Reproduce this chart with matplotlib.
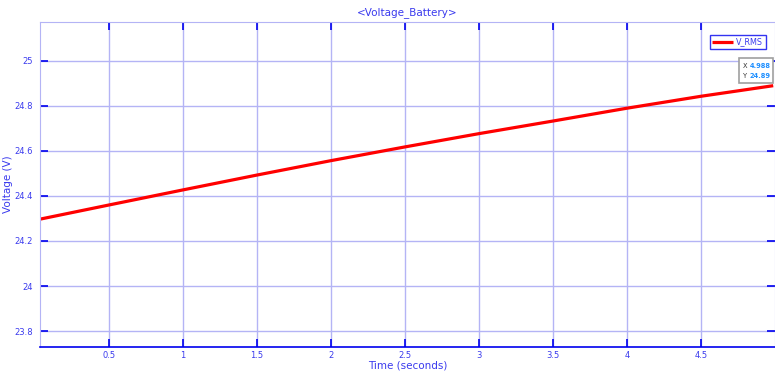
import matplotlib
matplotlib.use("Agg")
import matplotlib.pyplot as plt
from matplotlib.patches import Rectangle

# Battery RMS voltage trace
time_s = [0.034, 0.5, 1.0, 1.5, 2.0, 2.5, 3.0, 3.5, 4.0, 4.5, 4.988]
v_rms = [24.297, 24.36, 24.427, 24.493, 24.557, 24.618, 24.677, 24.733, 24.79, 24.843, 24.89]

x_ticks = [0.5, 1, 1.5, 2, 2.5, 3, 3.5, 4, 4.5]
x_tick_labels = ["0.5", "1", "1.5", "2", "2.5", "3", "3.5", "4", "4.5"]
y_ticks = [23.8, 24.0, 24.2, 24.4, 24.6, 24.8, 25.0]
y_tick_labels = ["23.8", "24", "24.2", "24.4", "24.6", "24.8", "25"]

tip_x, tip_y = time_s[-1], v_rms[-1]

W, H = 775, 374
fig = plt.figure(figsize=(W / 100, H / 100), dpi=100)
ax = fig.add_axes([40 / W, (H - 347) / H, 735 / W, 325 / H])

blue = "#0000ee"
light = "#b4b4f5"
label_blue = "#3a3aee"

ax.plot(time_s, v_rms, color="#ff0000", lw=2.3, label="V_RMS", solid_capstyle="butt")

ax.set_xlim(0.034, 5.0)
ax.set_ylim(23.729, 25.173)
ax.set_xticks(x_ticks)
ax.set_xticklabels(x_tick_labels)
ax.set_yticks(y_ticks)
ax.set_yticklabels(y_tick_labels)

ax.grid(True, color=light, lw=1.0)
ax.tick_params(axis="both", direction="in", length=5.5, width=1.2, color=blue,
               labelcolor=label_blue, labelsize=6, top=True, right=True)
ax.tick_params(axis="x", pad=3)
ax.tick_params(axis="y", pad=5)

for side in ("left", "top", "right"):
    ax.spines[side].set_color(light)
ax.spines["bottom"].set_color(blue)
ax.spines["bottom"].set_linewidth(1.2)

ax.set_title("<Voltage_Battery>", color=label_blue, fontsize=7.5, pad=5)
ax.set_xlabel("Time (seconds)", color=label_blue, fontsize=7.5, labelpad=0)
ax.set_ylabel("Voltage (V)", color=label_blue, fontsize=7.5, labelpad=1)

leg = ax.legend(loc="upper right", fontsize=5.8, frameon=True, fancybox=False,
                handlelength=2.6, borderpad=0.3, handletextpad=0.4,
                bbox_to_anchor=(0.993, 0.972))
leg.get_frame().set_edgecolor(blue)
leg.get_frame().set_linewidth(1.0)
for t in leg.get_texts():
    t.set_color(label_blue)

# Data tip box at the last sample
def px(x, y):
    return x / W, 1 - y / H

bx0, by0 = px(739, 83)
bx1, by1 = px(773, 58)
fig.patches.append(Rectangle((bx0, by0), bx1 - bx0, by1 - by0, transform=fig.transFigure,
                             fc="white", ec="#a0a0a0", lw=1.2, zorder=5))
for row, (name, val) in enumerate([("X", f"{tip_x:.3f}"), ("Y", f"{tip_y:.2f}")]):
    yy = 65.5 + row * 10
    fig.text(*px(742.5, yy), name, fontsize=4.8, color="#333333", va="center", zorder=6)
    fig.text(*px(750, yy), val, fontsize=4.8, color="#1e8fff", fontweight="bold",
             va="center", zorder=6)

fig.savefig("out.png", dpi=100)
